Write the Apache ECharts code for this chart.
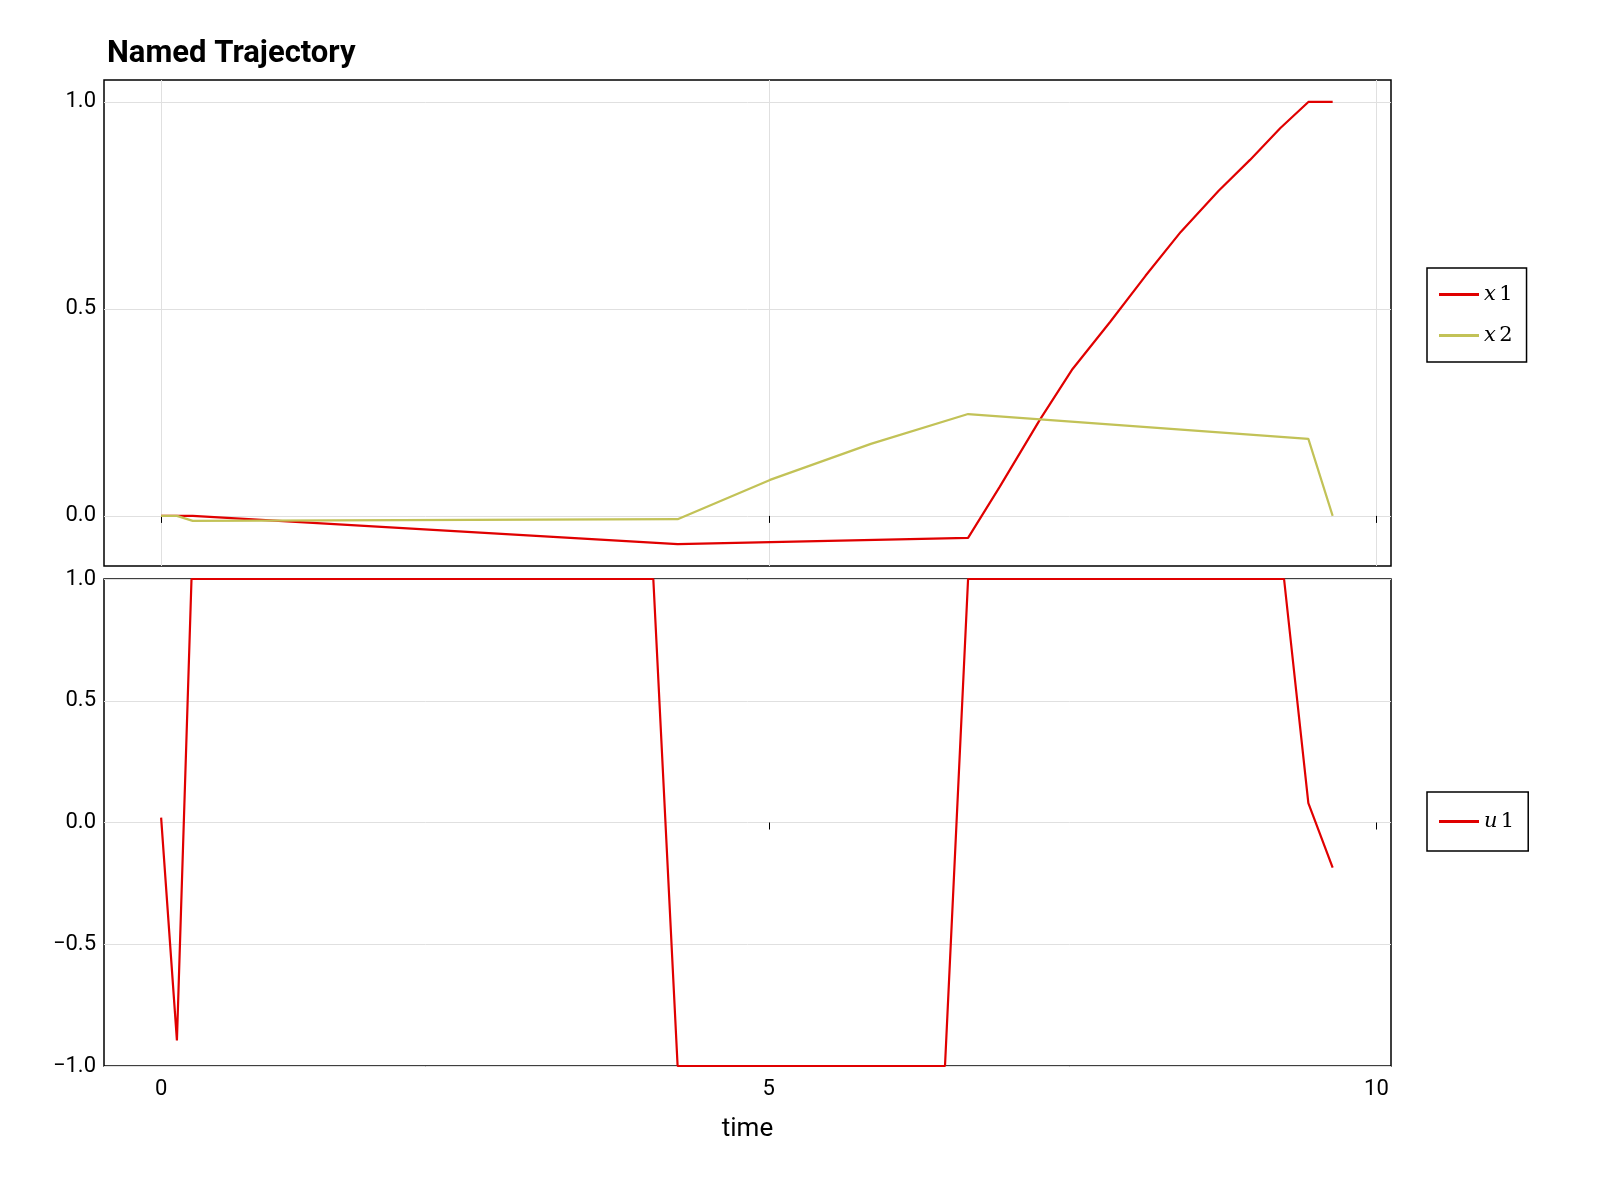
<!DOCTYPE html>
<html><head><meta charset="utf-8">
<script src="https://cdn.jsdelivr.net/npm/echarts@6/dist/echarts.min.js"></script>
<style>html,body{margin:0;background:#fff}#c{width:1600px;height:1200px}</style>
</head><body><div id="c"></div>
<script>
const x1 = [[0,0],[0.26,0],[4.25,-0.068],[6.64,-0.053],[6.9,0.07],[7.23,0.232],[7.5,0.355],[7.81,0.469],[8.1,0.58],[8.39,0.686],[8.7,0.785],[8.96,0.86],[9.21,0.937],[9.44,1.0],[9.64,1.0]];
const x2 = [[0,0],[0.13,0],[0.26,-0.012],[4.25,-0.008],[5.01,0.087],[5.84,0.174],[6.64,0.246],[9.44,0.186],[9.64,0]];
const u1 = [[0,0.02],[0.13,-0.895],[0.25,1.0],[4.05,1.0],[4.25,-1],[6.45,-1],[6.64,1.0],[9.24,1.0],[9.44,0.08],[9.64,-0.185]];
const xTicks = [0,5,10];
const yTicksTop = [0,0.5,1];
const fnt = 'Roboto';
const minus = v => (v<0?'\u2212':'') + Math.abs(v).toFixed(1);
const rich = {i:{fontFamily:'DejaVu Serif',fontStyle:'italic',fontSize:21,color:'#000'},n:{fontFamily:'DejaVu Serif',fontSize:21,color:'#000'}};
const fmt = name => { const p=name.split(' '); return '{i|'+p[0]+'} {n|'+p[1]+'}'; };
const grid = [{left:104,width:1287,top:80,height:486},{left:104,width:1287,top:579,height:487}];
const xBase = {type:'value',min:-0.47,max:10.12,
  axisLine:{show:false},
  splitLine:{show:false},
  axisLabel:{fontFamily:fnt,fontSize:22,color:'#000',margin:12,customValues:xTicks},
  axisTick:{show:true,length:7,lineStyle:{color:'#000'},customValues:xTicks}};
const chart = echarts.init(document.getElementById('c'));
const gl = {color:'#e0e0e0',type:'solid',width:1};
chart.setOption({
  animation:false,
  title:{text:'Named Trajectory',left:102,top:34,textStyle:{fontFamily:fnt,fontWeight:'bold',fontSize:31,color:'#000'}},
  grid:grid.map(g=>Object.assign({show:true,borderColor:'#000',borderWidth:1.5},g)),
  xAxis:[Object.assign({},xBase,{gridIndex:0,axisLabel:{show:false}}),
         Object.assign({},xBase,{gridIndex:1,name:'time',nameLocation:'middle',nameGap:50,nameTextStyle:{fontFamily:fnt,fontSize:26,color:'#000'}})],
  yAxis:[{type:'value',gridIndex:0,min:-0.121,max:1.053,axisLine:{show:false},axisTick:{show:false},
          axisLabel:{fontFamily:fnt,fontSize:22,color:'#000',customValues:yTicksTop,formatter:minus},
          splitLine:{show:false}},
         {type:'value',gridIndex:1,min:-1,max:1,interval:0.5,axisLine:{show:false},axisTick:{show:false},
          axisLabel:{fontFamily:fnt,fontSize:22,color:'#000',formatter:minus},
          splitLine:{show:true,lineStyle:gl}}],
  legend:[{data:['x 1','x 2'],orient:'vertical',left:1427,top:268,padding:[16,14,16,12],itemGap:20,borderColor:'#000',borderWidth:1.5,
           itemWidth:40,itemHeight:3,icon:'rect',formatter:fmt,textStyle:{rich}},
          {data:['u 1'],orient:'vertical',left:1427,top:792,padding:[19,14,19,12],borderColor:'#000',borderWidth:1.5,
           itemWidth:40,itemHeight:3,icon:'rect',formatter:fmt,textStyle:{rich}}],
  series:[
    {name:'x 1',type:'line',xAxisIndex:0,yAxisIndex:0,data:x1,showSymbol:false,lineStyle:{color:'#e00000',width:2.2},itemStyle:{color:'#e00000'},
     markLine:{silent:true,symbol:'none',label:{show:false},lineStyle:gl,z:0,
       data:yTicksTop.map(v=>({yAxis:v})).concat(xTicks.map(v=>({xAxis:v})))}},
    {name:'x 2',type:'line',xAxisIndex:0,yAxisIndex:0,data:x2,showSymbol:false,lineStyle:{color:'#c2c257',width:2.2},itemStyle:{color:'#c2c257'}},
    {name:'u 1',type:'line',xAxisIndex:1,yAxisIndex:1,data:u1,showSymbol:false,clip:true,lineStyle:{color:'#e00000',width:2.2},itemStyle:{color:'#e00000'}}
  ]
});
</script></body></html>
